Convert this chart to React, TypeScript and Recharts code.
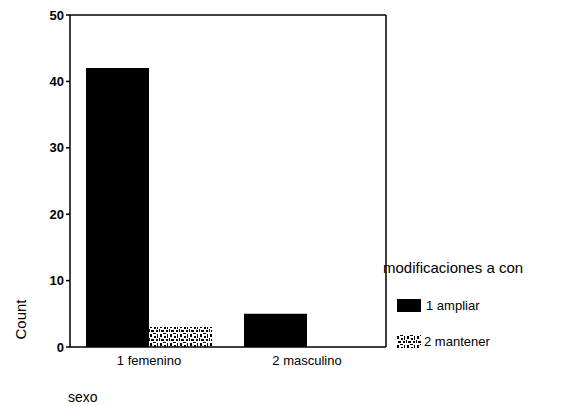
import React from 'react';
import { BarChart, Bar, XAxis, YAxis, CartesianGrid } from 'recharts';

const categories = ['1 femenino', '2 masculino'];
const ampliar = [42, 5];
const mantener = [3, 0];
const yTicks = [0, 10, 20, 30, 40, 50];

const data = categories.map((sexo, i) => ({
  sexo,
  ampliar: ampliar[i],
  mantener: mantener[i],
}));

const font = '"Liberation Sans", Arial, sans-serif';

const Swatch = ({ pattern }: { pattern?: boolean }) => (
  <svg width={24} height={13} style={{ display: 'block' }}>
    <rect width={24} height={13} fill={pattern ? 'url(#noise2)' : '#000'} />
  </svg>
);

// frame: only the top and right edges, axes draw the rest
const topLine = ({ offset }: any) => [offset.top];
const rightLine = ({ offset }: any) => [offset.left + offset.width];

export default function App() {
  return (
    <div style={{ position: 'absolute', left: 0, top: 0, width: 576, height: 406, background: '#fff' }}>
      <svg width={0} height={0} style={{ position: 'absolute' }}>
        <defs>
          <pattern id="noise2" width={10} height={9} patternUnits="userSpaceOnUse">
            <rect width={10} height={9} fill="#fff" />
            <rect x={0} y={1} width={2} height={3} fill="#000" />
            <rect x={3} y={0} width={3} height={1} fill="#000" />
            <rect x={4} y={3} width={2} height={2} fill="#000" />
            <rect x={7} y={1} width={1} height={4} fill="#000" />
            <rect x={1} y={6} width={3} height={2} fill="#000" />
            <rect x={6} y={6} width={2} height={2} fill="#000" />
            <rect x={9} y={5} width={1} height={3} fill="#000" />
          </pattern>
        </defs>
      </svg>
      <BarChart
        width={576}
        height={406}
        data={data}
        margin={{ top: 15, right: 190, left: 0, bottom: 0 }}
        barCategoryGap={16}
        barGap={0}
      >
        <CartesianGrid
          stroke="#000"
          strokeWidth={1.5}
          horizontalCoordinatesGenerator={topLine}
          verticalCoordinatesGenerator={rightLine}
        />
        <XAxis
          dataKey="sexo"
          height={59}
          stroke="#000"
          strokeWidth={1.5}
          tickLine={false}
          tick={{ fill: '#000', fontSize: 13, fontFamily: font }}
          tickMargin={3}
        />
        <YAxis
          width={70}
          domain={[0, 50]}
          ticks={yTicks}
          stroke="#000"
          strokeWidth={1.5}
          tickSize={4}
          tick={{ fill: '#000', fontSize: 13, fontWeight: 'bold', fontFamily: font }}
        />
        <Bar dataKey="ampliar" fill="#000" isAnimationActive={false} />
        <Bar dataKey="mantener" fill="url(#noise2)" isAnimationActive={false} />
      </BarChart>
      <div style={{ position: 'absolute', left: 383, top: 259, fontFamily: font, color: '#000' }}>
        <div style={{ fontSize: 15, marginBottom: 22 }}>modificaciones a con</div>
        <div style={{ display: 'flex', alignItems: 'center', marginLeft: 14, fontSize: 13 }}>
          <Swatch />
          <span style={{ marginLeft: 5 }}>1 ampliar</span>
        </div>
        <div style={{ display: 'flex', alignItems: 'center', marginLeft: 14, marginTop: 21, fontSize: 13 }}>
          <Swatch pattern />
          <span style={{ marginLeft: 3 }}>2 mantener</span>
        </div>
      </div>
      <div
        style={{
          position: 'absolute',
          left: 0,
          top: 311,
          transform: 'rotate(-90deg)',
          fontFamily: font,
          fontSize: 15,
          color: '#000',
        }}
      >
        Count
      </div>
      <div style={{ position: 'absolute', left: 68, top: 389, fontFamily: font, fontSize: 14, color: '#000' }}>
        sexo
      </div>
    </div>
  );
}
